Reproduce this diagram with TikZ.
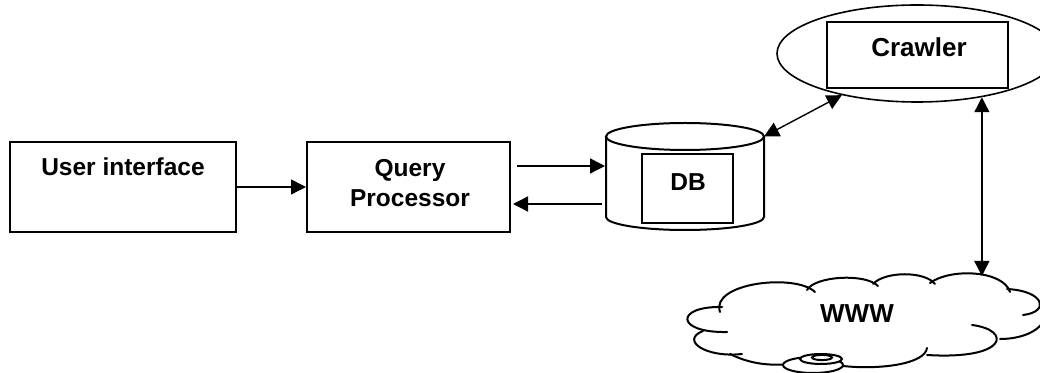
\documentclass[tikz,border=0pt]{standalone}
\usepackage{fontspec}
\setmainfont{Liberation Sans}
\usetikzlibrary{arrows.meta,shapes.geometric}
\begin{document}
\begin{tikzpicture}[x=0.5pt,y=-0.5pt,
  box/.style={draw,line width=1pt,inner sep=0pt},
  lbl/.style={font=\bfseries\fontsize{12.25}{15}\selectfont,align=center,inner sep=0pt},
  big/.style={font=\bfseries\fontsize{13}{15}\selectfont,inner sep=0pt},
  conn/.style={line width=0.7pt,-{Triangle[length=7.5pt,width=7.5pt]}},
  conn2/.style={line width=0.7pt,{Triangle[length=7.5pt,width=7.5pt]}-{Triangle[length=7.5pt,width=7.5pt]}},
  cloudline/.style={line width=1pt,line cap=round}]
\useasboundingbox (0,0) rectangle (1040,373);

% User interface and query processor
\node[box,minimum width=113pt,minimum height=45pt] (ui) at (123,187) {};
\node[lbl] (uitxt) at (123,167) {User interface};
\node[box,minimum width=101.5pt,minimum height=45pt] (qp) at (408.5,187) {};
\node[lbl] (qptxt) at (410,183) {Query\\Processor};

% Cylinder (DB)
\draw[line width=1pt] (606,136.5) -- (606,217) arc[start angle=180,end angle=360,x radius=39.5pt,y radius=6.5pt] -- (764,136.5);
\draw[line width=1pt] (685,136.5) ellipse[x radius=39.5pt,y radius=6.75pt];
\coordinate (cylin) at (605,166);
\coordinate (cylout) at (602,204);
\coordinate (cyltop) at (764,136.5);
\node[box,minimum width=45.5pt,minimum height=34.5pt] (db) at (687.5,188.5) {};
\node[lbl] (dbtxt) at (688,182) {DB};

% Crawler
\node[draw,ellipse,line width=0.8pt,minimum width=140pt,minimum height=48.5pt,inner sep=0pt] (crawl) at (917,53.5) {};
\node[box,minimum width=90.5pt,minimum height=33pt] (crawlbox) at (917.5,55) {};
\node[big] (crawltxt) at (919,47) {Crawler};

% Cloud
\draw[cloudline] (720,312) .. controls (710,283) and (795,273) .. (815,292);
\draw[cloudline] (807,290) .. controls (815,276) and (865,273) .. (878,286);
\draw[cloudline] (873,284) .. controls (885,271) and (925,271) .. (935,284);
\draw[cloudline] (930,283) .. controls (950,268) and (1003,270) .. (1010,292);
\draw[cloudline] (1007,289) .. controls (1045,291) and (1050,312) .. (1023,315);
\draw[cloudline] (1045,318) .. controls (1040,332) and (1020,339) .. (1000,339);
\draw[cloudline] (972,325) .. controls (1012,330) and (1008,360) .. (927,355);
\draw[cloudline] (927,348) .. controls (925,364) and (880,370) .. (843,366);
\draw[cloudline] (730,354) .. controls (750,364) and (770,366) .. (790,364);
\draw[cloudline] (703,331) .. controls (680,340) and (705,358) .. (742,354);
\draw[cloudline] (722,307) .. controls (675,306) and (675,333) .. (727,332);
\draw[line width=1pt,fill=white] (813,365) ellipse[x radius=15pt,y radius=4pt];
\draw[line width=1pt,fill=white] (821,359) ellipse[x radius=10.5pt,y radius=2.5pt];
\draw[line width=1pt,fill=white] (822,357.5) ellipse[x radius=5pt,y radius=1.3pt];
\node[big] (www) at (857,314) {WWW};
\coordinate (wwwtop) at (981,276);

% Connectors
\draw[conn] (ui.east) -- (qp.west);
\draw[conn] ([xshift=3pt,yshift=10.5pt]qp.east) -- (cylin);
\draw[conn] (cylout) -- ([xshift=1pt,yshift=-8.5pt]qp.east);
\draw[conn2] (cyltop) -- (crawl.209);
\draw[conn2] (crawl.326) -- (crawl.326 |- wwwtop);
\end{tikzpicture}
\end{document}
